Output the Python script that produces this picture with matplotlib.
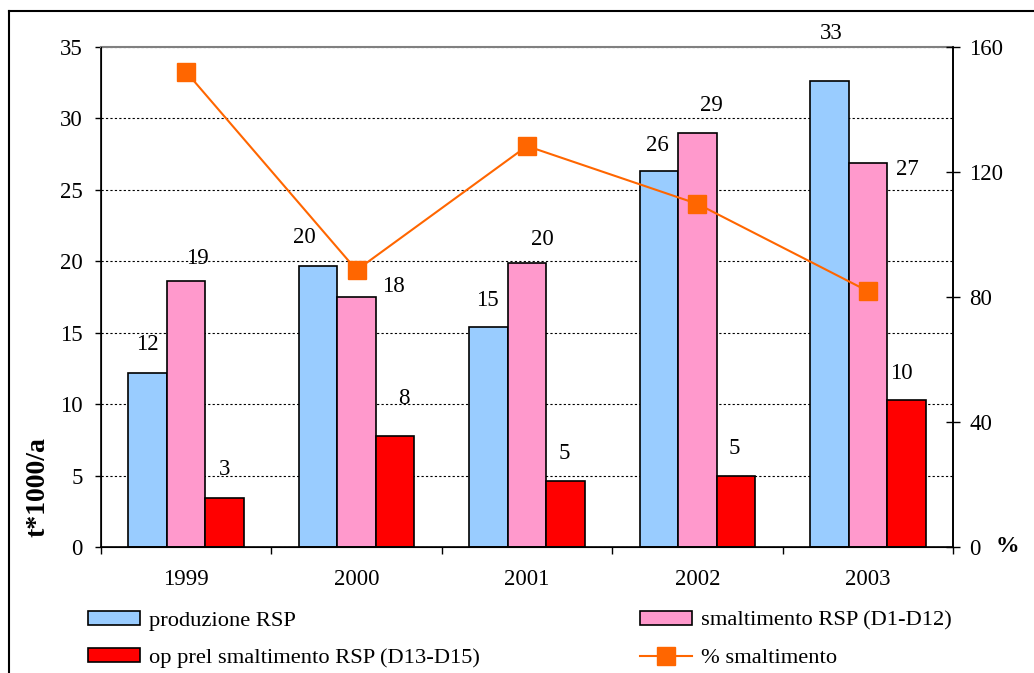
import numpy as np
import matplotlib
matplotlib.use('Agg')
import matplotlib.pyplot as plt
from matplotlib.lines import Line2D

plt.rcParams['font.family'] = ['Liberation Serif', 'DejaVu Serif']

# data
years = ['1999', '2000', '2001', '2002', '2003']
produzione = [12.2, 19.7, 15.4, 26.3, 32.6]
smaltimento = [18.6, 17.5, 19.9, 29.0, 26.9]
op_prel = [3.4, 7.8, 4.6, 5.0, 10.3]
perc_smaltimento = [152, 88.6, 128.3, 109.8, 81.9]

# label offsets (pixels) as placed in the original chart
off_prod = [(0, 28), (-14, 28), (-1, 27), (-2, 26), (2, 48)]
off_smalt = [(11, 23), (37, 11), (15, 23), (14, 27), (40, -7)]
off_op = [(0, 29), (9, 37), (-1, 28), (-2, 27), (-5, 26)]

fig = plt.figure(figsize=(10.34, 6.73), dpi=100)
ax = fig.add_axes([101 / 1034, 1 - 547 / 673, 852 / 1034, 500 / 673])

x = np.arange(len(years))
w = 0.226
series = [
    (produzione, '#99CCFF', 'produzione RSP', -w, off_prod),
    (smaltimento, '#FF99CC', 'smaltimento RSP (D1-D12)', 0, off_smalt),
    (op_prel, '#FF0000', 'op prel smaltimento RSP (D13-D15)', w, off_op),
]
handles = {}
for vals, col, lab, dx, offs in series:
    b = ax.bar(x + dx, vals, width=w, color=col, edgecolor='black', linewidth=1.2, label=lab, zorder=2)
    handles[lab] = b
    for xi, v, o in zip(x + dx, vals, offs):
        ax.annotate(f'{round(v):d}', (xi, v), xytext=o, textcoords='offset pixels',
                    ha='center', va='center', fontsize=16.5, annotation_clip=False)

ax.set_xlim(-0.5, 4.5)
ax.set_ylim(0, 35)
ax.set_yticks(np.arange(0, 36, 5))
ax.set_xticks(x)
ax.set_xticklabels(years)
ax.set_xticks(np.arange(-0.5, 5, 1), minor=True)
ax.tick_params(axis='x', which='major', length=0, pad=16, labelsize=16.5)
ax.tick_params(axis='x', which='minor', length=5, width=1, direction='out')
ax.tick_params(axis='y', length=4, width=1, pad=9, labelsize=16.5)
ax.yaxis.grid(True, linestyle=(0, (2, 2)), color='black', linewidth=0.8)
ax.set_axisbelow(True)
ax.spines['top'].set_color('#808080')
ax.spines['top'].set_linewidth(1.5)
for s in ['left', 'bottom', 'right']:
    ax.spines[s].set_linewidth(1.2)

ax2 = ax.twinx()
ln, = ax2.plot(x, perc_smaltimento, color='#FF6600', linewidth=1.5, marker='s',
               markersize=13, label='% smaltimento', zorder=3)
ax2.set_ylim(0, 160)
ax2.set_yticks(np.arange(0, 161, 40))
ax2.tick_params(axis='y', direction='inout', length=9.4, width=1, pad=7, labelsize=16.5)
ax2.spines['top'].set_visible(False)
ax2.spines['right'].set_linewidth(1.2)

fig.text(38 / 1034, 1 - 487 / 673, 't*1000/a', rotation=90, fontsize=20,
         fontweight='bold', ha='center', va='center')
fig.text(1007 / 1034, 1 - 546 / 673, '%', fontsize=17, fontweight='bold',
         ha='center', va='center')

leg_kw = dict(frameon=False, fontsize=16.2, handlelength=2.3, handleheight=0.55,
              handletextpad=0.4, labelspacing=0.78, borderpad=0, borderaxespad=0)
fig.legend([handles['produzione RSP'], handles['op prel smaltimento RSP (D13-D15)']],
           ['produzione RSP', 'op prel smaltimento RSP (D13-D15)'],
           loc='upper left', bbox_to_anchor=(88 / 1034, 1 - 611 / 673), **leg_kw)
fig.legend([handles['smaltimento RSP (D1-D12)'], ln],
           ['smaltimento RSP (D1-D12)', '% smaltimento'],
           loc='upper left', bbox_to_anchor=(640 / 1034, 1 - 611 / 673), **leg_kw)

# outer frame of the original chart
fig.add_artist(Line2D([9 / 1034, 9 / 1034], [0, 1 - 11 / 673], color='black', linewidth=1.5))
fig.add_artist(Line2D([9 / 1034, 1], [1 - 11 / 673, 1 - 11 / 673], color='black', linewidth=1.5))

fig.savefig('out.png', dpi=100)
